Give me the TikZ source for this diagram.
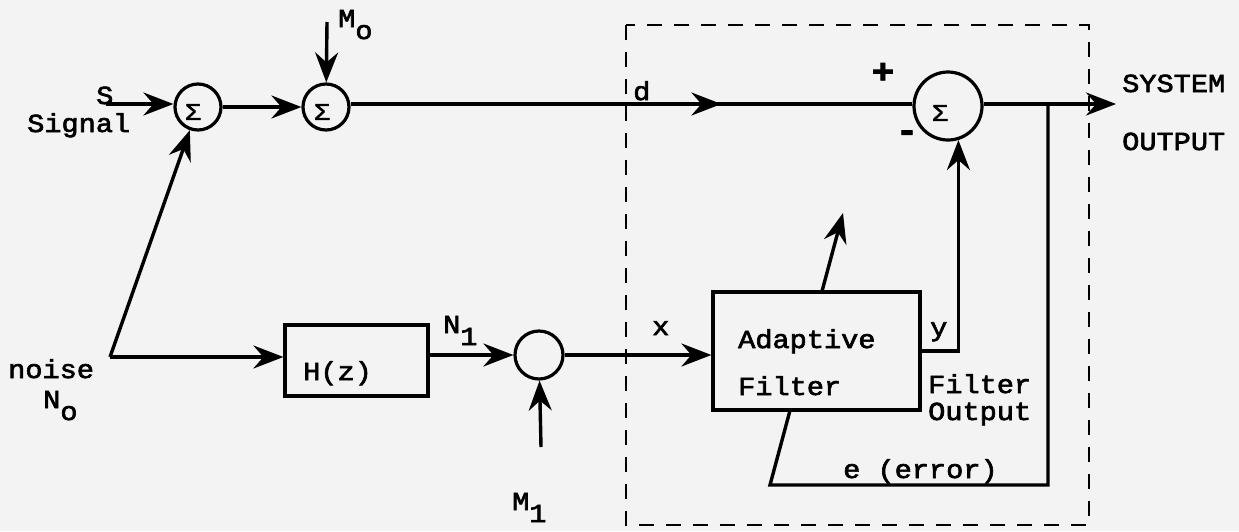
\documentclass[tikz,border=0pt]{standalone}
\usepackage{fontspec}
\setmainfont{Liberation Mono}[FakeStretch=1.1,FakeBold=2.5]
\usetikzlibrary{arrows.meta,decorations.markings}
\definecolor{paper}{RGB}{243,243,243}
\newcommand\lowsub[1]{\raisebox{-12pt}{#1}}
\begin{document}
\begin{tikzpicture}[x=1pt,y=-1pt,
  ln/.style={line width=3.4pt,line join=miter},
  arr/.style={ln,-{Stealth[length=30pt,width=23pt,inset=10pt]}},
  sumc/.style={circle,draw,line width=3.2pt,inner sep=0pt,minimum size=#1},
  txt/.style={font=\fontsize{26}{28}\selectfont,inner sep=0pt,anchor=base west},
  sig/.style={font=\fontsize{24}{26}\selectfont,inner sep=0pt},
  pm/.style={font=\fontsize{34}{36}\selectfont\bfseries,inner sep=0pt},
  blk/.style={draw,line width=3.2pt,fill=paper,inner sep=0pt},
  dbox/.style={line width=2.4pt,dash pattern=on 15pt off 12pt}]
\fill[paper] (0,0) rectangle (1239,531);
\useasboundingbox (0,0) rectangle (1239,531);

% summing junctions
\node[sumc=46pt] (s1) at (198,107) {};
\node[sig] (g1) at (193,112) {Σ};
\node[sumc=46pt] (s2) at (326,107) {};
\node[sig] (g2) at (322,112) {Σ};
\node[sumc=68pt] (s3) at (948,106) {};
\node[sig] (g3) at (940,113) {Σ};
\node[sumc=48pt] (c4) at (539,355) {};

% blocks
\node[blk,minimum width=143pt,minimum height=71pt] (H) at (356.5,360.5) {};
\node[txt] (Ht) at (303,380) {H(z)};

% dashed box
\draw[dbox] (626,25) rectangle (1089,525);

% labels
\node[txt] (lS) at (96,104) {S};
\node[txt] (lSig) at (27,132) {Signal};
\node[txt] (lM0) at (338,27) {M\lowsub{o}};
\node[txt] (ld) at (633,100) {d};
\node[pm] (lp) at (883,73) {+};
\node[pm] (lm) at (907,136) {-};
\node[txt] (lsys) at (1122,92) {SYSTEM};
\node[txt] (lout) at (1122,150) {OUTPUT};
\node[txt] (lnoise) at (8,378) {noise};
\node[txt] (lN0) at (43,408) {N\lowsub{o}};
\node[txt] (lN1) at (443,333) {N\lowsub{1}};
\node[txt] (lx) at (652,335) {x};
\node[txt] (ly) at (930,336) {y};
\node[txt] (lfo1) at (928,393) {Filter};
\node[txt] (lfo2) at (928,420) {Output};
\node[txt] (le) at (843,478) {e (error)};
\node[txt] (lM1) at (512,510) {M\lowsub{1}};

% coordinates
\coordinate (sS) at (106,104);
\coordinate (m0) at (327,22);
\coordinate (out) at (1116,104);
\coordinate (nz) at (110,357);
\coordinate (m1) at (541,447);
\coordinate (tap) at (1048,104);
\coordinate (ec) at (770,485);
\coordinate (at) at (843,213);

% error / adaptation path (filter box drawn over it)
\draw[arr] (tap) |- (ec) -- (at);

% adaptive filter box
\node[blk,minimum width=207pt,minimum height=118pt] (AF) at (816.5,351) {};
\node[txt] (af1) at (738,348) {Adaptive};
\node[txt] (af2) at (738,395) {Filter};

% connectors
\draw[arr] (sS) -- (sS -| s1.west);
\draw[arr] (s1) -- (s2);
\draw[arr] (m0) -- (s2);
\draw[ln,postaction={decorate},decoration={markings,mark=at position 0.66 with {\arrow{Stealth[length=30pt,width=23pt,inset=10pt]}}}] (s2.east |- sS) -- (s3.west |- sS);
\draw[arr] (s3.east |- sS) -- (out);
\draw[arr] (nz) -- (s1);
\draw[arr] (nz) -- (nz -| H.west);
\draw[arr] (H.east |- c4) -- (c4);
\draw[arr] (m1) -- (c4);
\draw[arr] (c4) -- (c4 -| AF.west);
\draw[arr] (AF.east) -| (s3.-73);
\end{tikzpicture}
\end{document}
